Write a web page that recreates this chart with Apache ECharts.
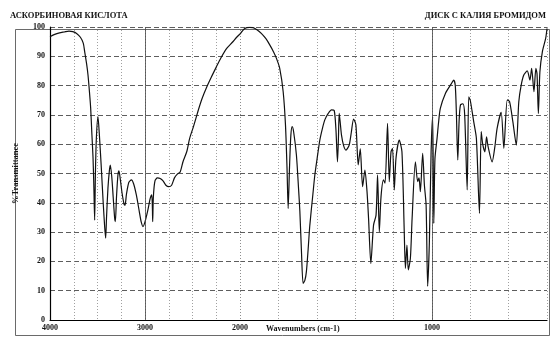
<!DOCTYPE html>
<html><head><meta charset="utf-8">
<script src="https://cdn.jsdelivr.net/npm/echarts@6/dist/echarts.min.js"></script>
<style>html,body{margin:0;padding:0;background:#fff}#c{width:560px;height:359px}</style>
</head><body><div id="c"></div>
<script>
const titleLeft = 'АСКОРБИНОВАЯ КИСЛОТА';
const titleRight = 'ДИСК С КАЛИЯ БРОМИДОМ';
const xAxisTitle = 'Wavenumbers (cm-1)';
const yAxisTitle = '%Transmittance';
const xTickLabels = [4000, 3000, 2000, 1000];

const wavenumbers = [
 4000,3950,3900,3850,3800,3760,3720,3680,3650,3635,3615,3600,3585,3572,3560,3547,3538,3530,3522,3512,3495,3480,3460,3440,3425,3414,3405,3390,3375,3365,3350,3335,3320,3312,3300,3285,3274,3260,3240,3220,3210,3195,3170,3144,3120,3090,3060,3040,3021,3000,2970,2945,2929,2922,2919,2912,2895,2870,2840,2810,2780,2750,2720,2690,2660,2630,2600,2560,2530,2490,2440,2400,2350,2300,2250,2200,2140,2080,2035,2000,
 1975,1950,1932,1910,1889,1865,1845,1825,1810,1793,1775,1763,1755,1749,1742,1735,1728,1720,1706,1695,1688,1680,1671,1662,1654,1645,1636,1620,1610,1595,1584,1570,1558,1540,1523,1509,1500,1492,1487,1483,1477,1471,1460,1448,1431,1420,1408,1396,1384,1378,1373,1361,1349,1338,1330,1318,1304,1291,1283,1274,1265,1252,1244,1231,1222,1213,1205,1196,1187,1170,1156,1144,1138,1130,1123,1112,1103,1086,1074,1067,1060,1048,1039,1030,1022,1013,1004,996,990,984,973,965,956,929,900,886,878,872,865,858,851,838,829,816,808,800,782,768,752,743,735,724,715,708,686,672,660,639,625,607,595,578,560,547,535,521,503,489,480,468,458,452,445,437,424,407,400
];
const transmittance = [
 96.7,97.5,98.0,98.3,98.6,98.4,97.8,96.5,94.5,91.6,87.5,83.6,78,72.4,64,55.3,45,34.1,50,62,69.4,63,52,40,32,27.9,35,45,51,52.9,49,42,35,33.6,42,49.5,50.9,48,43,39.5,39.2,43,47,47.8,46.5,42.5,37,33.5,31.9,33.5,37.5,41.5,42.7,38,33.6,42,47.5,48.5,48.3,47.5,46,45.5,46,48.5,49.8,50.5,54,57.5,62,66,71.5,75.5,79.5,83,86.3,89.5,92.7,94.8,96.5,97.6,
 99.5,99.9,99.8,99.0,97.8,96.0,93.9,91.5,89.3,85.9,77.9,66.6,52,38.1,52,63,66,64,56.3,45,37,24,12.5,13.5,16.5,24,32.4,43,49.5,56.5,61.4,65.5,68.3,70.5,71.7,71.5,65,54,62,70.5,67,63.1,59.5,58,59.7,64,68.6,66.6,52.9,56,58.4,45.5,51.2,43.8,34.7,19.3,32.4,35.8,49.5,30.1,42.1,47.8,46.7,67.1,47.2,57.4,58.6,44.4,55.2,61.4,57.4,30.1,17.6,25.6,17.1,21.1,34.7,54,47.2,48.5,43.8,56.9,46.1,39.2,11.5,26.7,57.4,69.4,33,55,62,67.5,72.2,77.4,80.5,81.9,80,70,54.6,68,73.4,73.8,70,44.4,76.2,75,67.7,62,36.4,64.3,60,57.4,62.5,59.5,54,59,65.4,70.9,58.6,75.1,74.5,67.7,59.7,74.5,80,83.6,85,81.9,85.9,77.9,85.9,84,70.5,84.7,91.6,96.1,99.5
];

const pairs = wavenumbers.map((w, i) => [w, transmittance[i]]);
const highPart = pairs.filter(p => p[0] >= 2000);
const lowPart = pairs.filter(p => p[0] <= 2000);

const FONT = 'Liberation Serif';
const gridLineH = {show: true, lineStyle: {color: '#333', type: [5, 3], width: 0.8}};
const gridLineV = {show: true, lineStyle: {color: '#888', type: [1, 2], width: 0.8}};
const lblStyle = {fontFamily: FONT, fontWeight: 'bold', fontSize: 8, color: '#111'};

const chart = echarts.init(document.getElementById('c'), null, {renderer: 'canvas'});
chart.setOption({
  animation: false,
  backgroundColor: '#fff',
  title: [
    {text: titleLeft, left: 5, top: 6, textStyle: {fontFamily: FONT, fontWeight: 'bold', fontSize: 8.5, color: '#111'}},
    {text: titleRight, right: 9, top: 6, textStyle: {fontFamily: FONT, fontWeight: 'bold', fontSize: 8.5, color: '#111'}}
  ],
  graphic: [
    {type: 'rect', left: 13, top: 27, shape: {width: 534, height: 306}, style: {fill: 'none', stroke: '#444', lineWidth: 0.8}, silent: true},
    {type: 'text', left: 266, top: 325, style: {text: xAxisTitle, fontFamily: FONT, fontWeight: 'bold', fontSize: 8, fill: '#111'}}
  ],
  grid: [
    {left: 50, top: 27, width: 190, height: 293, show: false},
    {left: 240, top: 27, right: 13, height: 293, show: false}
  ],
  xAxis: [
    {gridIndex: 0, type: 'value', inverse: true, min: 2000, max: 4000, interval: 250,
     axisLine: {show: true, lineStyle: {color: '#000', width: 1.2}}, axisTick: {show: false},
     axisLabel: Object.assign({margin: 4, showMinLabel: true, showMaxLabel: true,
       formatter: v => xTickLabels.includes(v) ? String(v) : ''}, lblStyle),
     splitLine: gridLineV},
    {gridIndex: 1, type: 'value', inverse: true, min: 400, max: 2000, interval: 200,
     axisLine: {show: true, lineStyle: {color: '#000', width: 1.2}}, axisTick: {show: false},
     axisLabel: Object.assign({margin: 4, showMinLabel: true, showMaxLabel: true,
       formatter: v => (xTickLabels.includes(v) && v !== 2000) ? String(v) : ''}, lblStyle),
     splitLine: gridLineV}
  ],
  yAxis: [
    {gridIndex: 0, type: 'value', min: 0, max: 100, interval: 10,
     name: yAxisTitle, nameLocation: 'middle', nameGap: 30,
     nameTextStyle: {fontFamily: FONT, fontWeight: 'bold', fontSize: 8.5, color: '#111'},
     axisLine: {show: true, lineStyle: {color: '#000', width: 1.2}}, axisTick: {show: false},
     axisLabel: Object.assign({margin: 5}, lblStyle), splitLine: gridLineH},
    {gridIndex: 1, type: 'value', min: 0, max: 100, interval: 10,
     axisLine: {show: false}, axisTick: {show: false}, axisLabel: {show: false}, splitLine: gridLineH}
  ],
  series: [
    {type: 'line', xAxisIndex: 0, yAxisIndex: 0, data: highPart, showSymbol: false, smooth: 0.25,
     lineStyle: {color: '#111', width: 1.2}, silent: true,
     markLine: {silent: true, symbol: 'none', label: {show: false}, lineStyle: {color: '#444', type: 'solid', width: 0.8}, data: [{xAxis: 3000}]}},
    {type: 'line', xAxisIndex: 1, yAxisIndex: 1, data: lowPart, showSymbol: false, smooth: 0.25,
     lineStyle: {color: '#111', width: 1.2}, silent: true,
     markLine: {silent: true, symbol: 'none', label: {show: false}, lineStyle: {color: '#444', type: 'solid', width: 0.8}, data: [{xAxis: 1000}]}}
  ]
});
</script>
</body></html>
